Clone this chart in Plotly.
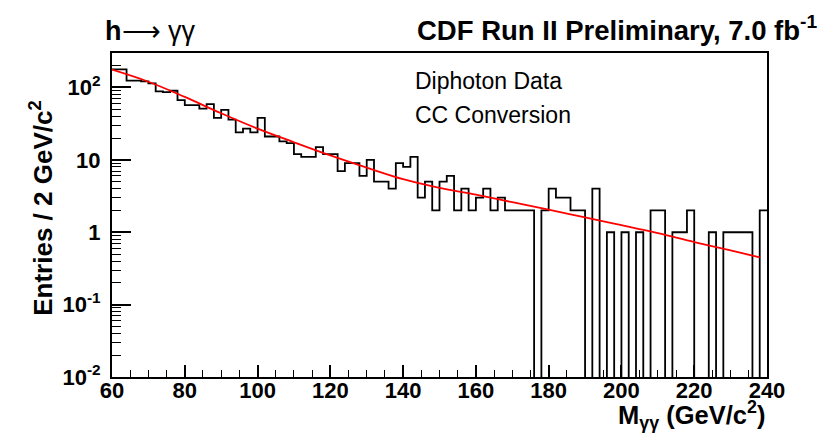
import plotly.graph_objects as go

# --- data ---
bin_edges_low = list(range(60, 240, 2))  # 90 bins, 2 GeV wide
counts = [178, 178, 124, 124, 121, 114, 88, 86, 90, 67,
          57, 57, 51, 59, 38, 49, 36, 24, 27, 24,
          38, 21, 21, 18, 17, 12, 11, 11, 15, 12,
          12, 7, 9, 9, 6, 10, 5, 5, 4, 9,
          8, 11, 3, 5, 2, 5, 6, 2, 4, 2,
          3, 4, 2, 3, 2, 2, 2, 2, 0, 2,
          4, 3, 3, 2, 2, 0, 4, 0, 1, 0,
          1, 0, 1, 0, 2, 2, 0, 1, 1, 2,
          0, 0, 1, 0, 1, 1, 1, 1, 0, 2]

fit_x = [60, 70, 80, 90, 100, 110, 120, 130, 140, 150, 160, 170, 180, 190, 200, 210, 220, 230, 238]
fit_y = [176, 120, 74, 44, 27, 17.5, 11.5, 7.8, 5.4, 4.1, 3.3, 2.6, 2.05, 1.6, 1.25, 0.97, 0.73, 0.56, 0.45]

x_tickvals = [60, 80, 100, 120, 140, 160, 180, 200, 220, 240]
y_tickvals = [0.01, 0.1, 1, 10, 100]
y_ticktext = ["10<sup>-2</sup>", "10<sup>-1</sup>", "1", "10", "10<sup>2</sup>"]

# empty bins drop below the log axis floor so the step outline reaches the frame bottom
FLOOR = 1e-4
step_x = bin_edges_low + [240]
step_y = [c if c > 0 else FLOOR for c in counts]
step_y = step_y + [step_y[-1]]

FONT = "Liberation Sans"

fig = go.Figure()
fig.add_trace(go.Scatter(x=step_x, y=step_y, mode="lines", line=dict(shape="hv", color="black", width=1.8),
                         hoverinfo="skip", showlegend=False))
fig.add_trace(go.Scatter(x=fit_x, y=fit_y, mode="lines", line=dict(shape="spline", color="#ff0000", width=1.8),
                         hoverinfo="skip", showlegend=False))

y_minor = []
for d in [0.01, 0.1, 1, 10]:
    y_minor += [d * k for k in range(2, 10)]
y_minor += [200]

fig.update_layout(
    width=831, height=433, autosize=False,
    margin=dict(l=104, r=72, t=45, b=64),
    paper_bgcolor="white", plot_bgcolor="white",
    xaxis=dict(range=[60, 240], tickmode="array", tickvals=x_tickvals,
               ticks="inside", ticklen=12, tickwidth=1.5, tickcolor="black",
               showline=True, linecolor="black", linewidth=2, mirror=True,
               showgrid=False, zeroline=False, ticklabelstandoff=-7,
               tickfont=dict(family=FONT, size=22, color="black", weight="bold"),
               minor=dict(dtick=5, tick0=60, ticks="inside", ticklen=7, tickwidth=1.2, tickcolor="black", showgrid=False)),
    yaxis=dict(type="log", range=[-2, 2.476], tickmode="array", tickvals=y_tickvals, ticktext=y_ticktext,
               ticks="inside", ticklen=19, tickwidth=1.5, tickcolor="black",
               showline=True, linecolor="black", linewidth=2, mirror=True,
               showgrid=False, zeroline=False, ticklabelstandoff=5,
               tickfont=dict(family=FONT, size=22, color="black", weight="bold"),
               minor=dict(tickmode="array", tickvals=y_minor, ticks="inside", ticklen=9, tickwidth=1.2,
                          tickcolor="black", showgrid=False)),
)

def ann(text, x, y, xanchor, yanchor, size, weight="normal", angle=0):
    fig.add_annotation(text=text, x=x, y=y, xref="paper", yref="paper", xanchor=xanchor, yanchor=yanchor,
                       showarrow=False, textangle=angle,
                       font=dict(family=FONT, size=size, color="black", weight=weight))

ann("<b>h</b>\u27f6 \u03b3\u03b3", -0.013, 1.015, "left", "bottom", 27)
ann("CDF Run II Preliminary, 7.0 fb<sup>-1</sup>", 1.08, 1.015, "right", "bottom", 27.5, "bold")
ann("Diphoton Data", 0.46, 0.868, "left", "bottom", 23)
ann("CC Conversion", 0.46, 0.763, "left", "bottom", 23)
ann("Entries / 2 GeV/c<sup>2</sup>", -0.107, 0.522, "center", "middle", 26, "bold", -90)
ann("M<sub>\u03b3\u03b3</sub> (GeV/c<sup>2</sup>)", 1.0, -0.056, "right", "top", 25.5, "bold")

fig.write_html("out.html")
